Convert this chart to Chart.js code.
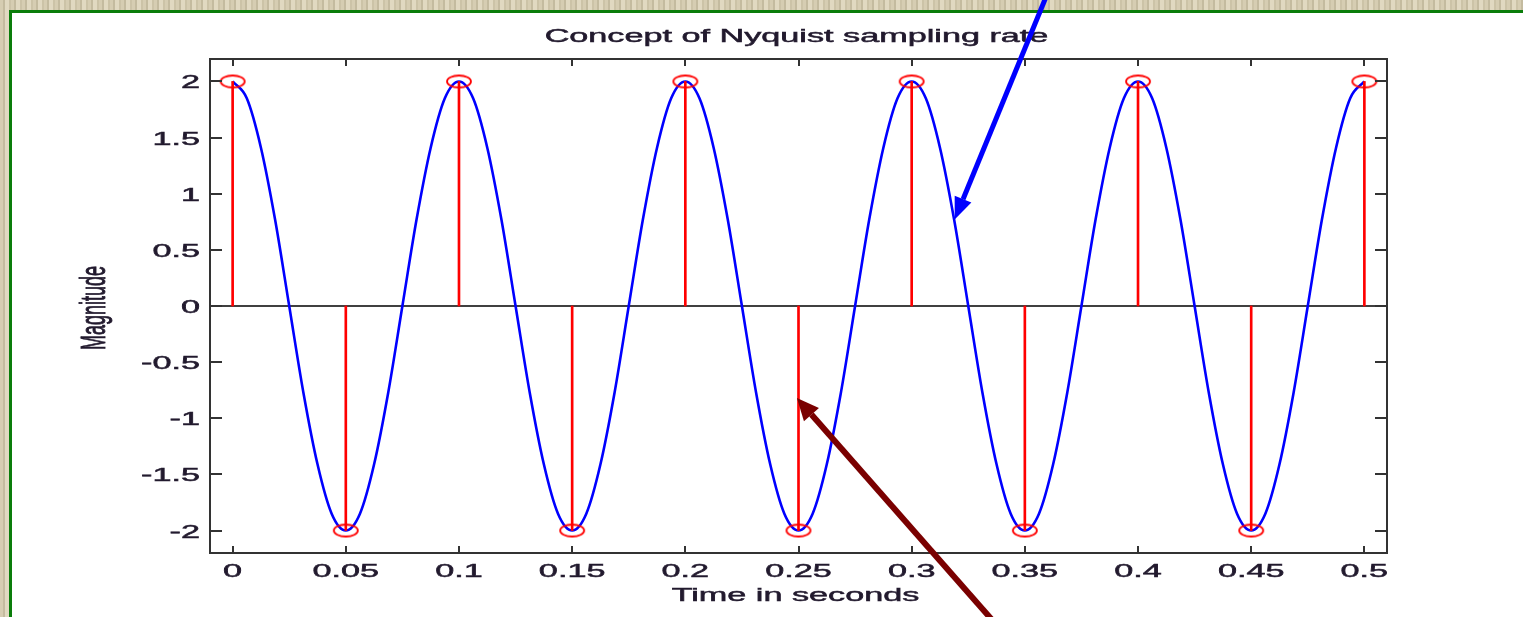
<!DOCTYPE html>
<html>
<head>
<meta charset="utf-8">
<script src="https://cdn.jsdelivr.net/npm/chart.js@4.4.1/dist/chart.umd.min.js"></script>
<style>
  html, body { margin: 0; padding: 0; }
  #page {
    position: relative; width: 1523px; height: 617px; overflow: hidden;
    background: repeating-linear-gradient(90deg, #d6cdb2 0 3px, #c4bb9f 3px 5px, #e1d9c1 5px 9px, #ccc3a7 9px 11px);
  }
  #panel {
    position: absolute; left: 9px; top: 10px; right: 0; bottom: 0;
    background: #ffffff; border-left: 3px solid #0a7d0a; border-top: 3px solid #0a7d0a;
  }
  #wrap { position: absolute; left: 0; top: 0; width: 1523px; height: 617px; }
</style>
</head>
<body>
<div id="page">
  <div id="panel"></div>
  <div id="wrap"><canvas id="c"></canvas></div>
</div>
<script>
// ---- data ----
const chartTitle = 'Concept of Nyquist sampling rate';
const xAxisTitle = 'Time in seconds';
const yAxisTitle = 'Magnitude';

// continuous signal (blue)
const curveTime = [
  0, 0.00625, 0.0125, 0.01875, 0.025, 0.03125, 0.0375, 0.04375,
  0.05, 0.05625, 0.0625, 0.06875, 0.075, 0.08125, 0.0875, 0.09375,
  0.1, 0.10625, 0.1125, 0.11875, 0.125, 0.13125, 0.1375, 0.14375,
  0.15, 0.15625, 0.1625, 0.16875, 0.175, 0.18125, 0.1875, 0.19375,
  0.2, 0.20625, 0.2125, 0.21875, 0.225, 0.23125, 0.2375, 0.24375,
  0.25, 0.25625, 0.2625, 0.26875, 0.275, 0.28125, 0.2875, 0.29375,
  0.3, 0.30625, 0.3125, 0.31875, 0.325, 0.33125, 0.3375, 0.34375,
  0.35, 0.35625, 0.3625, 0.36875, 0.375, 0.38125, 0.3875, 0.39375,
  0.4, 0.40625, 0.4125, 0.41875, 0.425, 0.43125, 0.4375, 0.44375,
  0.45, 0.45625, 0.4625, 0.46875, 0.475, 0.48125, 0.4875, 0.49375,
  0.5
];
const curveValue = [
  2, 1.85, 1.41, 0.77, 0, -0.77, -1.41, -1.85,
  -2, -1.85, -1.41, -0.77, 0, 0.77, 1.41, 1.85,
  2, 1.85, 1.41, 0.77, 0, -0.77, -1.41, -1.85,
  -2, -1.85, -1.41, -0.77, 0, 0.77, 1.41, 1.85,
  2, 1.85, 1.41, 0.77, 0, -0.77, -1.41, -1.85,
  -2, -1.85, -1.41, -0.77, 0, 0.77, 1.41, 1.85,
  2, 1.85, 1.41, 0.77, 0, -0.77, -1.41, -1.85,
  -2, -1.85, -1.41, -0.77, 0, 0.77, 1.41, 1.85,
  2, 1.85, 1.41, 0.77, 0, -0.77, -1.41, -1.85,
  -2, -1.85, -1.41, -0.77, 0, 0.77, 1.41, 1.85,
  2
];

// sampled values (red stems)
const sampleTime  = [0, 0.05, 0.1, 0.15, 0.2, 0.25, 0.3, 0.35, 0.4, 0.45, 0.5];
const sampleValue = [2, -2, 2, -2, 2, -2, 2, -2, 2, -2, 2];

// tick labels
const xTickValues = [0, 0.05, 0.1, 0.15, 0.2, 0.25, 0.3, 0.35, 0.4, 0.45, 0.5];
const xTickLabels = ['0', '0.05', '0.1', '0.15', '0.2', '0.25', '0.3', '0.35', '0.4', '0.45', '0.5'];
const yTickValues = [-2, -1.5, -1, -0.5, 0, 0.5, 1, 1.5, 2];
const yTickLabels = ['-2', '-1.5', '-1', '-0.5', '0', '0.5', '1', '1.5', '2'];

// annotation arrows in data units: [tailX, tailY, tipX, tipY]
const blueArrow = [0.3595, 2.76, 0.3190, 0.77];
const redArrow  = [0.3357, -2.80, 0.2493, -0.82];

// ---- styling ----
const FONT = '18px "Liberation Sans", Arial, sans-serif';
const SX = 1.9;          // horizontal stretch of the original image
const TEXT = '#221a2e';
const AXIS = '#333333';

function ellipseMarker() {
  const c = document.createElement('canvas');
  c.width = 30; c.height = 16;
  const g = c.getContext('2d');
  g.strokeStyle = '#ff0000';
  g.lineWidth = 1.8;
  g.beginPath();
  g.ellipse(15, 8, 12, 6, 0, 0, Math.PI * 2);
  g.stroke();
  return c;
}

function stretchedText(ctx, text, x, y, align, baseline, rotate) {
  ctx.save();
  ctx.translate(x, y);
  ctx.scale(SX, 1);
  if (rotate) ctx.rotate(-Math.PI / 2);
  ctx.font = FONT;
  ctx.fillStyle = TEXT;
  ctx.strokeStyle = TEXT;
  ctx.lineWidth = 0.5;
  ctx.textAlign = align;
  ctx.textBaseline = baseline;
  ctx.fillText(text, 0, 0);
  ctx.strokeText(text, 0, 0);
  ctx.restore();
}

function drawArrow(ctx, xs, ys, a, color, width, headLen, headW) {
  const x1 = xs.getPixelForValue(a[0]), y1 = ys.getPixelForValue(a[1]);
  const x2 = xs.getPixelForValue(a[2]), y2 = ys.getPixelForValue(a[3]);
  const ang = Math.atan2(y2 - y1, x2 - x1);
  const bx = x2 - headLen * Math.cos(ang), by = y2 - headLen * Math.sin(ang);
  ctx.save();
  ctx.strokeStyle = color; ctx.fillStyle = color;
  ctx.lineWidth = width; ctx.lineCap = 'butt';
  ctx.beginPath(); ctx.moveTo(x1, y1); ctx.lineTo(bx, by); ctx.stroke();
  ctx.beginPath();
  ctx.moveTo(x2, y2);
  ctx.lineTo(bx + headW * Math.sin(ang), by - headW * Math.cos(ang));
  ctx.lineTo(bx - headW * Math.sin(ang), by + headW * Math.cos(ang));
  ctx.closePath(); ctx.fill();
  ctx.restore();
}

const matlabAxes = {
  id: 'matlabAxes',
  beforeDatasetsDraw(chart) {
    const { ctx, chartArea: a, scales: { y } } = chart;
    const y0 = y.getPixelForValue(0);
    ctx.save();
    ctx.strokeStyle = '#000000';
    ctx.lineWidth = 1.6;
    ctx.beginPath(); ctx.moveTo(a.left, y0); ctx.lineTo(a.right, y0); ctx.stroke();
    ctx.restore();
  },
  afterDraw(chart) {
    const { ctx, chartArea: a, scales: { x, y } } = chart;
    ctx.save();
    ctx.strokeStyle = AXIS; ctx.lineWidth = 2;
    ctx.strokeRect(a.left, a.top, a.right - a.left, a.bottom - a.top);
    ctx.beginPath();
    xTickValues.forEach(v => {
      const px = Math.round(x.getPixelForValue(v));
      ctx.moveTo(px, a.bottom); ctx.lineTo(px, a.bottom - 7);
      ctx.moveTo(px, a.top); ctx.lineTo(px, a.top + 7);
    });
    yTickValues.forEach(v => {
      const py = Math.round(y.getPixelForValue(v));
      ctx.moveTo(a.left, py); ctx.lineTo(a.left + 12, py);
      ctx.moveTo(a.right, py); ctx.lineTo(a.right - 12, py);
    });
    ctx.stroke();
    ctx.restore();
    xTickValues.forEach((v, i) => {
      stretchedText(ctx, xTickLabels[i], x.getPixelForValue(v), a.bottom + 24, 'center', 'alphabetic');
    });
    yTickValues.forEach((v, i) => {
      stretchedText(ctx, yTickLabels[i], a.left - 10, y.getPixelForValue(v) + 7, 'right', 'alphabetic');
    });
    const cx = (a.left + a.right) / 2;
    stretchedText(ctx, chartTitle, cx - 2, 42, 'center', 'alphabetic');
    stretchedText(ctx, xAxisTitle, cx - 3, 601, 'center', 'alphabetic');
    stretchedText(ctx, yAxisTitle, 96, (a.top + a.bottom) / 2 + 2, 'center', 'middle', true);
    drawArrow(ctx, x, y, blueArrow, '#0000ff', 5, 22, 9);
    drawArrow(ctx, x, y, redArrow, '#7a0000', 6, 22, 10);
  }
};

new Chart(document.getElementById('c'), {
  type: 'line',
  data: {
    datasets: [
      {
        type: 'line',
        label: 'Signal',
        data: curveTime.map((t, i) => ({ x: t, y: curveValue[i] })),
        borderColor: '#0000ff',
        borderWidth: 2.6,
        pointRadius: 0,
        cubicInterpolationMode: 'monotone',
        fill: false,
        order: 3
      },
      {
        type: 'bar',
        label: 'Stems',
        data: sampleTime.map((t, i) => ({ x: t, y: sampleValue[i] })),
        backgroundColor: '#ff0000',
        borderWidth: 0,
        barThickness: 2,
        order: 2
      },
      {
        type: 'line',
        label: 'Samples',
        data: sampleTime.map((t, i) => ({ x: t, y: sampleValue[i] })),
        showLine: false,
        pointStyle: ellipseMarker(),
        pointRadius: 8,
        order: 1
      }
    ]
  },
  options: {
    responsive: true,
    maintainAspectRatio: false,
    animation: false,
    layout: { padding: { left: 210, top: 59, right: 136, bottom: 64 } },
    plugins: { legend: { display: false }, tooltip: { enabled: false }, title: { display: false } },
    scales: {
      x: { type: 'linear', min: -0.01, max: 0.51, offset: false, display: false },
      y: { type: 'linear', min: -2.2, max: 2.2, display: false }
    }
  },
  plugins: [matlabAxes]
});
</script>
</body>
</html>
